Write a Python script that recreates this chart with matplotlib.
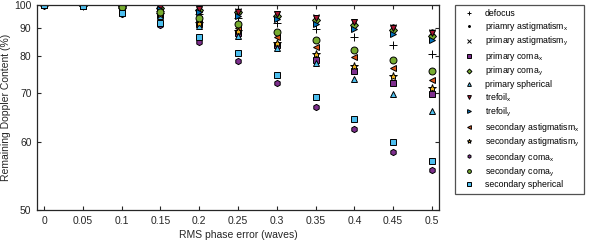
import numpy as np
import matplotlib
matplotlib.use("Agg")
import matplotlib.pyplot as plt

plt.rcParams['font.family'] = ['Liberation Sans', 'DejaVu Sans']
plt.rcParams['mathtext.fontset'] = 'custom'
plt.rcParams['mathtext.rm'] = 'Liberation Sans'

# RMS phase error (waves)
rms = [0, 0.05, 0.1, 0.15, 0.2, 0.25, 0.3, 0.35, 0.4, 0.45, 0.5]

# remaining Doppler content (%) per aberration
defocus       = [100, 99.7, 98.8, 97.3, 95.8, 94.0, 91.9, 89.5, 86.5, 83.7, 80.7]
prim_astig_x  = [100, 99.9, 99.6, 99.0, 98.2, 97.2, 96.0, 94.5, 92.7, 90.7, 88.8]
prim_astig_y  = [100, 99.9, 99.6, 98.9, 98.1, 97.0, 95.8, 94.3, 92.4, 90.4, 88.4]
prim_coma_x   = [100, 99.5, 97.6, 95.4, 91.5, 87.8, 83.7, 78.8, 75.6, 72.4, 69.7]
prim_coma_y   = [100, 99.9, 99.4, 98.7, 97.7, 96.5, 95.0, 93.2, 91.3, 89.2, 87.0]
prim_sph      = [100, 99.4, 97.6, 94.9, 90.7, 86.9, 82.7, 77.9, 73.5, 69.7, 66.0]
trefoil_x     = [100, 99.9, 99.5, 98.9, 98.0, 96.9, 95.6, 94.0, 92.2, 90.1, 88.0]
trefoil_y     = [100, 99.8, 99.2, 98.1, 96.7, 95.1, 93.4, 91.6, 89.6, 87.5, 85.5]
sec_astig_x   = [100, 99.7, 98.5, 96.7, 93.5, 89.9, 86.5, 83.0, 79.8, 76.5, 73.2]
sec_astig_y   = [100, 99.6, 98.0, 95.8, 91.9, 88.7, 84.4, 80.7, 77.0, 74.2, 71.2]
sec_coma_x    = [100, 99.4, 96.0, 91.2, 84.7, 78.5, 72.4, 66.8, 62.3, 58.2, 55.4]
sec_coma_y    = [100, 99.9, 99.0, 96.7, 94.0, 91.5, 88.4, 85.4, 82.0, 78.8, 75.6]
sec_sph       = [100, 99.5, 96.2, 91.9, 86.5, 80.9, 74.5, 69.0, 64.3, 60.0, 56.8]

series = [
    (defocus, 'defocus', '+', 'k'),
    (prim_astig_x, r'priamry astigmatism$_\mathrm{x}$', '.', 'k'),
    (prim_astig_y, r'primary astigmatism$_\mathrm{y}$', 'x', 'k'),
    (prim_coma_x, r'primary coma$_\mathrm{x}$', 's', '#7E2F8E'),
    (prim_coma_y, r'primary coma$_\mathrm{y}$', 'D', '#77AC30'),
    (prim_sph, 'primary spherical', '^', '#4DBEEE'),
    (trefoil_x, r'trefoil$_\mathrm{x}$', 'v', '#A2142F'),
    (trefoil_y, r'trefoil$_\mathrm{y}$', '>', '#0072BD'),
    (sec_astig_x, r'secondary astigmatism$_\mathrm{x}$', '<', '#D95319'),
    (sec_astig_y, r'secondary astigmatism$_\mathrm{y}$', '*', '#EDB120'),
    (sec_coma_x, r'secondary coma$_\mathrm{x}$', 'h', '#7E2F8E'),
    (sec_coma_y, r'secondary coma$_\mathrm{y}$', 'o', '#77AC30'),
    (sec_sph, 'secondary spherical', 's', '#4DBEEE'),
]

fig = plt.figure(figsize=(5.98, 2.5), dpi=100)
ax = fig.add_axes([0.062, 0.16, 0.672, 0.82])

for vals, name, mk, col in series:
    size = {'.': 5, '+': 6, 'x': 4.5, '*': 6, 'h': 4.5, 'D': 4.5}.get(mk, 5)
    ax.plot(rms, vals, linestyle='none', marker=mk, ms=size, mfc=col,
            mec='k', mew=0.7, label=name)

# y axis is spaced like 1/y
ax.set_yscale('function', functions=(lambda y: -1.0 / np.asarray(y, float),
                                     lambda v: -1.0 / np.asarray(v, float)))
ax.set_ylim(50, 100)
ax.set_yticks([50, 60, 70, 80, 90, 100])
ax.set_yticklabels(['50', '60', '70', '80', '90', '100'])
ax.yaxis.set_minor_locator(matplotlib.ticker.NullLocator())
ax.set_xlim(-0.009, 0.509)
ax.set_xticks(rms)
ax.set_xticklabels(['0', '0.05', '0.1', '0.15', '0.2', '0.25', '0.3', '0.35',
                    '0.4', '0.45', '0.5'])

ax.tick_params(direction='in', top=True, right=True, length=3, width=0.8,
               labelsize=7.5, colors='#262626', pad=4)
for sp in ax.spines.values():
    sp.set_color('#262626')
    sp.set_linewidth(0.9)

ax.set_xlabel('RMS phase error (waves)', fontsize=7.5, color='#262626', labelpad=3)
ax.set_ylabel('Remaining Doppler Content (%)', fontsize=7.5, color='#262626', labelpad=2)

leg = ax.legend(loc='upper left', bbox_to_anchor=(455 / 598, 1 - 5 / 250),
                bbox_transform=fig.transFigure, borderaxespad=0, fontsize=6.3,
                markerscale=0.55, frameon=True, fancybox=False, handlelength=2.2,
                handletextpad=0.7, labelspacing=0.22, borderpad=0.5)
leg.get_frame().set_edgecolor('#262626')
leg.get_frame().set_linewidth(0.9)

fig.savefig('out.png', dpi=100)
